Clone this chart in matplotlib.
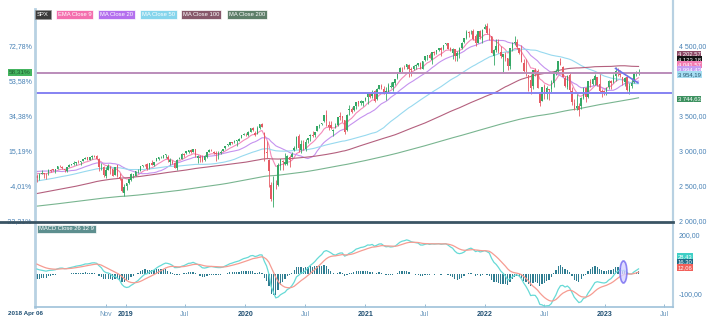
import numpy as np
import pandas as pd
import matplotlib
matplotlib.use("Agg")
import matplotlib.pyplot as plt
import matplotlib.dates as mdates
from matplotlib.patches import Ellipse
from matplotlib.lines import Line2D
from matplotlib.ticker import FuncFormatter, FixedLocator

plt.rcParams['font.family'] = ['Liberation Sans', 'DejaVu Sans']

# SPX weekly closes Apr 2014 - Mar 2018, only used to warm up the long averages
warmup_closes = [
    1815, 1864, 1863, 1881, 1878, 1878, 1900, 1924, 1950, 1936, 1963, 1961, 1985, 1967, 1978, 1978,
    1925, 1931, 1955, 1988, 2003, 2008, 1985, 2010, 1982, 1968, 1906, 1887, 1965, 2018, 2032, 2039,
    2064, 2068, 2075, 2003, 2071, 2089,
    2058, 2045, 2019, 2051, 1995, 2055, 2097, 2110, 2104, 2071, 2053, 2108, 2061, 2067, 2102, 2081,
    2117, 2108, 2116, 2123, 2126, 2107, 2092, 2094, 2110, 2102, 2076, 2076, 2127, 2079, 2104, 2078,
    2091, 1971, 1989, 1921, 1961, 1958, 1931, 1951, 2015, 2033, 2075, 2079, 2099, 2023, 2089, 2090,
    2092, 2012, 2006, 2061, 2044,
    1922, 1880, 1907, 1940, 1880, 1865, 1918, 1948, 2000, 2022, 2050, 2035, 2073, 2048, 2081, 2092,
    2065, 2057, 2047, 2052, 2099, 2099, 2096, 2071, 2037, 2103, 2130, 2162, 2175, 2174, 2183, 2184,
    2184, 2169, 2180, 2128, 2139, 2165, 2168, 2153, 2133, 2141, 2126, 2085, 2164, 2182, 2213, 2192,
    2260, 2258, 2264, 2239,
    2277, 2275, 2271, 2295, 2297, 2316, 2351, 2367, 2383, 2373, 2378, 2344, 2363, 2355, 2329, 2349,
    2384, 2399, 2391, 2382, 2416, 2439, 2432, 2433, 2438, 2423, 2425, 2459, 2473, 2472, 2477, 2441,
    2426, 2443, 2477, 2461, 2500, 2502, 2519, 2549, 2553, 2575, 2581, 2588, 2582, 2579, 2602, 2642,
    2652, 2676, 2684, 2674,
    2743, 2786, 2810, 2873, 2762, 2620, 2732, 2747, 2691, 2786, 2752, 2588, 2641,
]

# SPX weekly candles, 2018 Apr 06 - 2023 Apr 14
opens = [
    # 2018
    2633, 2611, 2670, 2675, 2668, 2675, 2727, 2735, 2706, 2743, 2781, 2765, 2742,
    2705, 2769, 2797, 2804, 2821, 2838, 2835, 2853, 2885, 2906, 2872, 2903, 2921,
    2926, 2882, 2763, 2773, 2640, 2727, 2773, 2733, 2650, 2790, 2630, 2590, 2400,
    # 2019
    2498, 2535, 2585, 2657, 2644, 2703, 2706, 2779, 2805, 2813, 2747, 2823, 2797,
    2848, 2888, 2904, 2898, 2940, 2909, 2840, 2841, 2830, 2750, 2885, 2886, 2952,
    2972, 2980, 3013, 2986, 3025, 2899, 2908, 2913, 2866, 2910, 2988, 2996, 2983,
    2967, 2944, 2966, 2996, 3035, 3078, 3081, 3123, 3117, 3143, 3141, 3183, 3227,
    # 2020
    3240, 3217, 3271, 3323, 3247, 3235, 3318, 3380, 3257, 2974, 2863, 2508, 2290,
    2498, 2514, 2776, 2846, 2815, 2815, 2915, 2914, 3004, 3038, 3213, 3004, 3094,
    3018, 3155, 3205, 3224, 3219, 3288, 3356, 3382, 3419, 3507, 3370, 3370, 3285,
    3334, 3367, 3500, 3494, 3441, 3296, 3583, 3600, 3579, 3634, 3705, 3675, 3684, 3723,
    # 2021
    3764, 3803, 3781, 3855, 3732, 3886, 3920, 3885, 3842, 3844, 3913, 3916,
    3969, 4034, 4130, 4183, 4185, 4191, 4228, 4170, 4168, 4216, 4230, 4248, 4173,
    4291, 4356, 4372, 4296, 4410, 4406, 4437, 4474, 4450, 4529, 4535, 4474, 4402,
    4450, 4348, 4385, 4471, 4553, 4610, 4697, 4689, 4708, 4640, 4532, 4710, 4588, 4733,
    # 2022
    4778, 4667, 4632, 4357, 4432, 4505, 4410, 4332, 4363, 4328, 4210, 4462,
    4541, 4547, 4474, 4385, 4255, 4130, 4081, 4013, 3920, 4149, 4134, 3838, 3716,
    3920, 3815, 3880, 3883, 3965, 4113, 4140, 4270, 4195, 4034, 3910, 4084, 3849, 3683,
    3609, 3638, 3638, 3755, 3901, 3768, 3978, 3956, 4006, 4052, 3954, 3853, 3843,
    # 2023
    3853, 3910, 3999, 3978, 4070, 4120, 4096, 4052, 3982, 4055, 3855, 3917, 3986,
    4102, 4111,
]
highs = [
    2672, 2680, 2717, 2683, 2682, 2732, 2743, 2742, 2737, 2779, 2801, 2774, 2744,
    2760, 2804, 2816, 2848, 2841, 2863, 2855, 2877, 2916, 2907, 2906, 2941, 2940,
    2939, 2894, 2817, 2778, 2766, 2815, 2775, 2733, 2760, 2800, 2685, 2601, 2520,
    2532, 2597, 2675, 2672, 2709, 2738, 2776, 2795, 2814, 2817, 2830, 2860, 2836,
    2893, 2910, 2917, 2940, 2955, 2932, 2893, 2865, 2841, 2885, 2911, 2964, 2964,
    2996, 3014, 3018, 3028, 3027, 2939, 2944, 2940, 2941, 2985, 3021, 3022, 2999,
    2993, 2993, 3008, 3027, 3066, 3098, 3120, 3127, 3154, 3150, 3183, 3226, 3248,
    3258, 3275, 3329, 3338, 3285, 3348, 3385, 3393, 3260, 3137, 2882, 2553, 2637,
    2575, 2818, 2879, 2870, 2965, 2934, 2945, 2980, 3068, 3211, 3233, 3156, 3155,
    3165, 3186, 3233, 3280, 3272, 3352, 3387, 3399, 3509, 3588, 3425, 3428, 3306,
    3393, 3482, 3550, 3502, 3441, 3529, 3646, 3628, 3645, 3700, 3712, 3726, 3711, 3760,
    3827, 3823, 3861, 3870, 3889, 3937, 3951, 3929, 3914, 3960, 3983, 3979,
    4020, 4129, 4191, 4194, 4219, 4237, 4236, 4189, 4218, 4234, 4249, 4262, 4286,
    4355, 4372, 4393, 4415, 4430, 4440, 4470, 4479, 4513, 4545, 4540, 4486, 4465,
    4457, 4430, 4475, 4559, 4608, 4718, 4714, 4718, 4743, 4672, 4713, 4731, 4740, 4808,
    4819, 4749, 4632, 4453, 4595, 4590, 4490, 4385, 4416, 4329, 4465, 4546,
    4637, 4594, 4471, 4512, 4308, 4307, 4082, 4091, 4159, 4178, 4169, 3838, 3913,
    3946, 3919, 3880, 4013, 4140, 4168, 4280, 4325, 4203, 4062, 4076, 4119, 3907, 3736,
    3806, 3685, 3762, 3905, 3912, 4002, 4028, 4034, 4100, 4052, 4101, 3876, 3872,
    3906, 4003, 4016, 4094, 4195, 4176, 4159, 4053, 4048, 4079, 3964, 4039, 4110,
    4133, 4163,
]
lows = [
    2553, 2586, 2660, 2612, 2594, 2655, 2701, 2707, 2676, 2735, 2765, 2742, 2691,
    2698, 2768, 2790, 2800, 2791, 2830, 2802, 2848, 2884, 2864, 2864, 2887, 2903,
    2874, 2710, 2721, 2628, 2603, 2717, 2670, 2631, 2649, 2621, 2583, 2409, 2347,
    2443, 2524, 2570, 2612, 2631, 2681, 2705, 2766, 2775, 2723, 2735, 2800, 2785,
    2848, 2873, 2891, 2898, 2900, 2836, 2801, 2805, 2750, 2728, 2874, 2882, 2913,
    2954, 2966, 2967, 2976, 2914, 2822, 2840, 2834, 2853, 2891, 2979, 2989, 2952,
    2856, 2874, 2952, 2993, 3023, 3066, 3078, 3091, 3115, 3070, 3134, 3182, 3223,
    3212, 3215, 3264, 3280, 3214, 3234, 3316, 3335, 2855, 2902, 2478, 2280, 2192,
    2447, 2502, 2729, 2727, 2801, 2797, 2766, 2910, 2999, 3025, 2984, 2965, 3004,
    2999, 3115, 3142, 3201, 3200, 3285, 3322, 3369, 3410, 3349, 3293, 3313, 3210,
    3324, 3354, 3441, 3415, 3234, 3280, 3511, 3543, 3570, 3594, 3633, 3647, 3636, 3715,
    3663, 3750, 3755, 3694, 3725, 3884, 3885, 3805, 3723, 3844, 3896, 3853,
    3944, 4020, 4118, 4118, 4170, 4168, 4057, 4062, 4155, 4168, 4216, 4165, 4165,
    4286, 4300, 4323, 4233, 4360, 4385, 4431, 4347, 4440, 4517, 4456, 4425, 4305,
    4288, 4278, 4330, 4447, 4537, 4595, 4630, 4672, 4585, 4495, 4532, 4600, 4532, 4733,
    4662, 4582, 4395, 4222, 4414, 4401, 4327, 4115, 4279, 4157, 4161, 4424,
    4506, 4450, 4381, 4268, 4124, 4062, 3858, 3810, 3875, 4074, 3900, 3636, 3705,
    3739, 3743, 3722, 3819, 3911, 4080, 4112, 4218, 4057, 3907, 3887, 3838, 3647, 3584,
    3584, 3491, 3591, 3733, 3698, 3751, 3906, 3932, 3942, 3918, 3828, 3765, 3800,
    3794, 3885, 3885, 3963, 3989, 4070, 4047, 3943, 3928, 3846, 3809, 3900, 3974,
    4069, 4087,
]
closes = [
    2604.47, 2656, 2670, 2670, 2663, 2728, 2713, 2721, 2735, 2779, 2780, 2755, 2718,
    2760, 2801, 2802, 2819, 2840, 2833, 2850, 2875, 2902, 2872, 2905, 2930, 2914,
    2886, 2767, 2768, 2658, 2723, 2781, 2736, 2633, 2760, 2633, 2600, 2417, 2486,
    2532, 2596, 2671, 2665, 2707, 2708, 2776, 2793, 2804, 2743, 2822, 2801, 2834,
    2893, 2907, 2905, 2940, 2946, 2881, 2860, 2826, 2752, 2873, 2887, 2950, 2942,
    2990, 3014, 2977, 3026, 2932, 2919, 2889, 2847, 2926, 2979, 3007, 2992, 2962,
    2952, 2970, 2986, 3023, 3067, 3093, 3120, 3110, 3141, 3146, 3169, 3221, 3240,
    3235, 3265, 3330, 3295, 3226, 3328, 3380, 3338, 2954, 2972, 2711, 2305, 2541,
    2489, 2790, 2875, 2837, 2831, 2930, 2864, 2955, 3044, 3194, 3041, 3098, 3009,
    3130, 3185, 3225, 3216, 3271, 3351, 3373, 3397, 3508, 3427, 3341, 3319, 3298,
    3348, 3477, 3484, 3465, 3270, 3510, 3585, 3558, 3638, 3699, 3663, 3709, 3703, 3756,
    3825, 3768, 3841, 3714, 3887, 3934, 3907, 3811, 3842, 3943, 3913, 3975,
    4020, 4129, 4185, 4180, 4181, 4233, 4174, 4156, 4204, 4230, 4247, 4166, 4281,
    4352, 4370, 4327, 4412, 4395, 4437, 4468, 4442, 4509, 4535, 4459, 4433, 4455,
    4357, 4391, 4471, 4545, 4605, 4697, 4683, 4698, 4595, 4538, 4712, 4621, 4726, 4766,
    4677, 4663, 4398, 4432, 4501, 4419, 4349, 4385, 4329, 4204, 4463, 4543,
    4546, 4488, 4392, 4272, 4132, 4123, 4024, 3901, 4158, 4109, 3901, 3675, 3912,
    3825, 3899, 3863, 3962, 4130, 4145, 4280, 4228, 4058, 3924, 4067, 3873, 3693, 3586,
    3640, 3583, 3752, 3901, 3771, 3993, 3965, 4026, 4072, 3934, 3852, 3845, 3840,
    3895, 3999, 3973, 4071, 4136, 4090, 4079, 3970, 4045, 3862, 3917, 3971, 4109,
    4105, 4123.18,
]

first_week = '2018-04-06'
base_close = 2604.47   # the % scale is measured from this close

ma_names = ['EMA Close 9', 'MA Close 20', 'MA Close 50', 'MA Close 100', 'MA Close 200']
ma_colors = ['#f48ab9', '#c592ef', '#97d9ef', '#b4607e', '#79b590']
legend_colors = ['#f46fae', '#b470ee', '#86d5ec', '#87586b', '#5e7e69']

# values in the tags on the price scale
tag_values = [4202.57, 4123.18, 4041.57, 3994.43, 3954.19, 3744.63]
tag_colors = ['#8c4a66', '#141414', '#f27db3', '#c59df2', '#a6def2', '#3d9160']
tag_text = ['white', 'white', 'white', 'white', '#29566e', 'white']
macd_tags = [28.43, 16.30, 12.06]
macd_tag_colors = ['#3fcfc6', '#1f6a86', '#f2605a']

level_lines = [4115, 3820]
level_colors = ['#bb8cba', '#8582f2']
trend_dates = ['2023-02-03', '2023-04-12']
trend_prices = [4175, 3970]

UP, DOWN = '#35a866', '#e55a63'
AXIS_TXT = '#4781b5'
SPINE = '#b8d1e2'


def euro(v, dec=2):
    s = f"{v:,.{dec}f}"
    return s.replace(',', ' ').replace('.', ',')


def pct(v):
    return euro((v / base_close - 1) * 100) + '%'


dates = pd.date_range(first_week, periods=len(closes), freq='W-FRI')
x = mdates.date2num(dates)
o = np.array(opens, float)
h = np.array(highs, float)
l = np.array(lows, float)
c = np.array(closes, float)

full = pd.Series(warmup_closes + closes, dtype=float)
n0 = len(warmup_closes)
mas = [full.ewm(span=9, adjust=False).mean()]
for n in [20, 50, 100, 200]:
    mas.append(full.rolling(n).mean())

macd = full.ewm(span=12, adjust=False).mean() - full.ewm(span=26, adjust=False).mean()
signal = macd.ewm(span=9, adjust=False).mean()
hist = macd - signal

W, H = 715, 332
fig = plt.figure(figsize=(W / 100, H / 100), dpi=100)


def rect(left, top, right, bottom):
    return [left / W, 1 - bottom / H, (right - left) / W, (bottom - top) / H]


ax = fig.add_axes(rect(35, 0, 673, 221))
axm = fig.add_axes(rect(35, 223, 673, 307), sharex=ax)

# moving averages
for s, col in zip(mas, ma_colors):
    ax.plot(x, s.values[n0:], color=col, lw=0.8, zorder=2)

# candles
up = c >= o
col = np.where(up, UP, DOWN)
ax.vlines(x, l, h, colors=col, lw=0.6, zorder=3)
body_lo = np.minimum(o, c)
body_h = np.maximum(np.abs(c - o), 6)
ax.bar(x, body_h, bottom=body_lo, width=4.6, color=col, lw=0, zorder=4)

for lv, lc in zip(level_lines, level_colors):
    ax.axhline(lv, color=lc, lw=1.4, zorder=5)
ax.plot(mdates.date2num(pd.to_datetime(trend_dates)), trend_prices,
        color='#6e72e8', lw=1.2, zorder=6)

ax.set_xlim(mdates.date2num(pd.Timestamp('2018-03-31')), mdates.date2num(pd.Timestamp('2023-07-28')))
ax.set_ylim(1995, 5153)

price_ticks = [2000, 2500, 3000, 3500, 4000, 4500]
ax.yaxis.set_major_locator(FixedLocator(price_ticks))
ax.yaxis.set_major_formatter(FuncFormatter(lambda v, p: pct(v)))
ax.tick_params(axis='y', length=0, labelsize=5, labelcolor=AXIS_TXT, pad=2)
ax.tick_params(axis='x', length=0, labelbottom=False)

axr = ax.twinx()
axr.set_ylim(ax.get_ylim())
axr.yaxis.set_major_locator(FixedLocator([2000, 2500, 3000, 3500, 4500]))
axr.yaxis.set_major_formatter(FuncFormatter(lambda v, p: euro(v)))
axr.tick_params(axis='y', length=0, labelsize=5, labelcolor=AXIS_TXT, pad=4)

for a in (ax, axr):
    for side in ['top', 'bottom', 'left']:
        a.spines[side].set_visible(False)
    a.spines['right'].set_color(SPINE)
    a.spines['right'].set_linewidth(1.5)

# left border starts just under the legend row
fig.add_artist(Line2D([35 / W, 35 / W], [1 - 9 / H, 1 - 221 / H], color=SPINE, lw=2))

# MACD panel
axm.bar(x, hist.values[n0:], width=3.8, color='#2f7d91', lw=0, zorder=2)
axm.plot(x, macd.values[n0:], color='#67dad6', lw=0.9, zorder=3)
axm.plot(x, signal.values[n0:], color='#f69c92', lw=0.9, zorder=3)
axm.add_patch(Ellipse((mdates.date2num(pd.Timestamp('2023-02-27')), 12), 21, 112,
                      facecolor='#d6d2ff', edgecolor='#7469f0', lw=1.2, alpha=0.8, zorder=4))
axm.set_ylim(-166, 261)
axm.yaxis.tick_right()
axm.yaxis.set_major_locator(FixedLocator([-100, 200]))
axm.yaxis.set_major_formatter(FuncFormatter(lambda v, p: euro(v)))
axm.tick_params(axis='y', length=0, labelsize=5, labelcolor=AXIS_TXT, pad=4)

month_ticks = ['2018-11-01', '2019-01-01', '2019-07-01', '2020-01-01', '2020-07-01',
               '2021-01-01', '2021-07-01', '2022-01-01', '2022-07-01', '2023-01-01', '2023-07-01']
month_labels = ['Nov', '2019', 'Jul', '2020', 'Jul', '2021', 'Jul', '2022', 'Jul', '2023', 'Jul']
axm.set_xticks(mdates.date2num(pd.to_datetime(month_ticks)))
axm.set_xticklabels(month_labels)
axm.tick_params(axis='x', direction='in', length=2, width=0.6, color='#86afcc',
                labelsize=5, pad=3)
for t in axm.get_xticklabels():
    if t.get_text().isdigit():
        t.set_color('#1e4e72')
        t.set_fontweight('bold')
    else:
        t.set_color('#6a98bd')
axm.spines['top'].set_visible(False)
axm.spines['left'].set_color(SPINE)
axm.spines['left'].set_linewidth(2)
axm.spines['right'].set_color(SPINE)
axm.spines['right'].set_linewidth(1.5)
axm.spines['bottom'].set_color('#9ec1d9')
axm.spines['bottom'].set_linewidth(1.2)

fig.text(8 / W, 1 - 313 / H, '2018 Apr 06', fontsize=4.5, color='#1e4e72',
         fontweight='bold', va='center', ha='left')

# panel separator
fig.add_artist(Line2D([0, 673 / W], [1 - 221.8 / H, 1 - 221.8 / H], color='#3a5464', lw=2))

# legend tags along the top
legend_x = [37, 58, 100, 142, 183, 229]
fig.text(legend_x[0] / W, 1 - 14.5 / H, 'SPX', fontsize=4.2, color='white', va='center',
         bbox=dict(boxstyle='square,pad=0.3', fc='#3b3b3b', ec='#9a9a9a', lw=0.5))
for lx, name, lc in zip(legend_x[1:], ma_names, legend_colors):
    fig.text(lx / W, 1 - 14.5 / H, name, fontsize=4.2, color='white', va='center',
             bbox=dict(boxstyle='square,pad=0.3', fc=lc, ec='white', lw=0.5))
fig.text(39 / W, 1 - 229 / H, 'MACD Close 26 12 9', fontsize=4.2, color='white', va='center',
         bbox=dict(boxstyle='square,pad=0.3', fc='#5d8f8f', ec='white', lw=0.5))

# last value tags on the price scale
tag_y = [54, 59.5, 64.5, 69.5, 74.5, 99]
for v, ty, tc, txc in zip(tag_values, tag_y, tag_colors, tag_text):
    fig.text(678 / W, 1 - ty / H, euro(v), fontsize=4.2, color=txc, va='center', ha='left',
             bbox=dict(boxstyle='square,pad=0.12', fc=tc, ec='none'))
for v, ty, tc in zip(macd_tags, [256.5, 262, 267.5], macd_tag_colors):
    fig.text(678 / W, 1 - ty / H, euro(v), fontsize=4.2, color='white', va='center', ha='left',
             bbox=dict(boxstyle='square,pad=0.12', fc=tc, ec='none'))

# % change tag for the last close
ax.annotate(pct(c[-1]), xy=(0, c[-1]), xycoords=('axes fraction', 'data'),
            xytext=(-3, 0), textcoords='offset points', ha='right', va='center',
            fontsize=4.6, color='#1d5e2f',
            bbox=dict(boxstyle='square,pad=0.15', fc='#44b460', ec='none'), annotation_clip=False)

fig.savefig('out.png', dpi=100, facecolor='white')
